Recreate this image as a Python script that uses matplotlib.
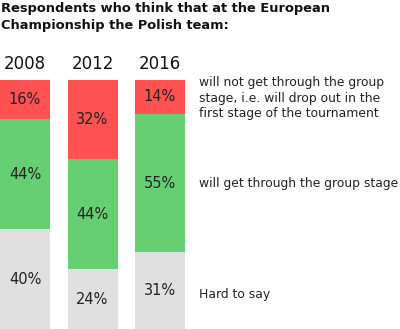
import matplotlib
matplotlib.use("Agg")
import matplotlib.pyplot as plt
import numpy as np

years = ["2008", "2012", "2016"]
not_through = [16, 32, 14]
through = [44, 44, 55]
hard_to_say = [40, 24, 31]
series_labels = ["will not get through the group\nstage, i.e. will drop out in the\nfirst stage of the tournament",
                 "will get through the group stage",
                 "Hard to say"]
title = "Respondents who think that at the European\nChampionship the Polish team:"

RED = "#FF5252"
GREEN = "#66CF73"
GRAY = "#E0E0E0"

W, H = 400, 329
fig = plt.figure(figsize=(W / 100, H / 100), dpi=100)
top_px = 79.5
ax = fig.add_axes([0, 0, 1, (H - top_px) / H])
ax.set_xlim(0, 400)
ax.set_ylim(0, 100)
ax.axis("off")

x = 25 + 67.5 * np.arange(len(years))
bw = 50
hs = np.array(hard_to_say)
th = np.array(through)
nt = np.array(not_through)
ax.bar(x, hs, bw, color=GRAY, linewidth=0)
ax.bar(x, th, bw, bottom=hs, color=GREEN, linewidth=0)
ax.bar(x, nt, bw, bottom=hs + th, color=RED, linewidth=0)

fs = 10.5
for i in range(len(years)):
    ax.text(x[i], hs[i] / 2, f"{hs[i]}%", ha="center", va="center", fontsize=fs, color="#222222")
    ax.text(x[i], hs[i] + th[i] / 2, f"{th[i]}%", ha="center", va="center", fontsize=fs, color="#222222")
    ax.text(x[i], hs[i] + th[i] + nt[i] / 2, f"{nt[i]}%", ha="center", va="center", fontsize=fs, color="#222222")
    ax.text(x[i], 106.3, years[i], ha="center", va="center", fontsize=12, color="#111111", clip_on=False)

lx = 199
lfs = 8.9
last = len(years) - 1
ax.text(lx, hs[last] + th[last] + nt[last] / 2 - 0.5, series_labels[0], ha="left", va="center",
        fontsize=lfs, color="#222222", linespacing=1.25)
ax.text(lx, hs[last] + th[last] / 2, series_labels[1], ha="left", va="center", fontsize=lfs, color="#222222")
ax.text(lx, hs[last] / 2 - 1.8, series_labels[2], ha="left", va="center", fontsize=lfs, color="#222222")

fig.text(1 / W, 1 - 2 / H, title, ha="left", va="top", fontsize=9.4, fontweight="bold",
         color="#111111", linespacing=1.35)

fig.savefig("out.png", dpi=100)
